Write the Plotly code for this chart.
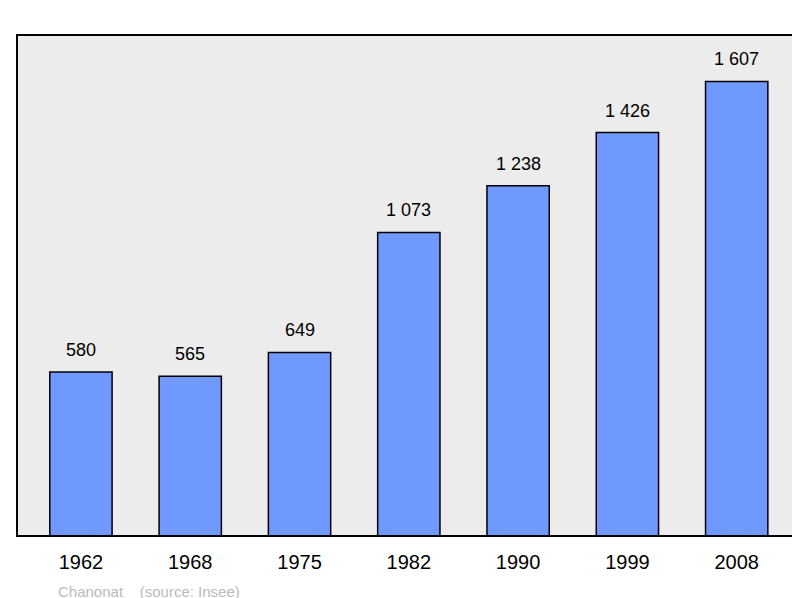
import plotly.graph_objects as go

years = ["1962", "1968", "1975", "1982", "1990", "1999", "2008"]
population = [580, 565, 649, 1073, 1238, 1426, 1607]
value_labels = ["580", "565", "649", "1 073", "1 238", "1 426", "1 607"]

xs = list(range(len(years)))
fig = go.Figure(go.Bar(
    x=xs, y=population, width=0.57,
    marker=dict(color="#7099ff", line=dict(color="black", width=1.5)),
))
anns = [dict(x=x, y=v, text=t, showarrow=False, yshift=22, yanchor="middle",
             font=dict(size=18, color="black")) for x, v, t in zip(xs, population, value_labels)]
anns.append(dict(text="Chanonat&nbsp;&nbsp;&nbsp;&nbsp;(source: Insee)", xref="paper", yref="paper",
                 x=0.05, y=-0.11, xanchor="left", yanchor="middle", showarrow=False,
                 font=dict(size=15, color="#bbbbbb")))
fig.update_layout(
    width=800, height=598,
    margin=dict(l=9, r=9, t=27, b=70, autoexpand=False),
    paper_bgcolor="white", plot_bgcolor="#ececec",
    showlegend=False,
    font=dict(family="Liberation Sans"),
    xaxis=dict(range=[-0.585, 6.57], tickvals=xs, ticktext=years,
               tickfont=dict(size=20, color="black"), showgrid=False,
               zeroline=False, ticks="", showline=False, ticklabelstandoff=12),
    yaxis=dict(range=[0, 1771], visible=False, showgrid=False),
    shapes=[dict(type="rect", xref="paper", yref="paper", x0=0, x1=1, y0=0, y1=1,
                 line=dict(color="black", width=2))],
    annotations=anns,
)
fig.write_html("out.html")
